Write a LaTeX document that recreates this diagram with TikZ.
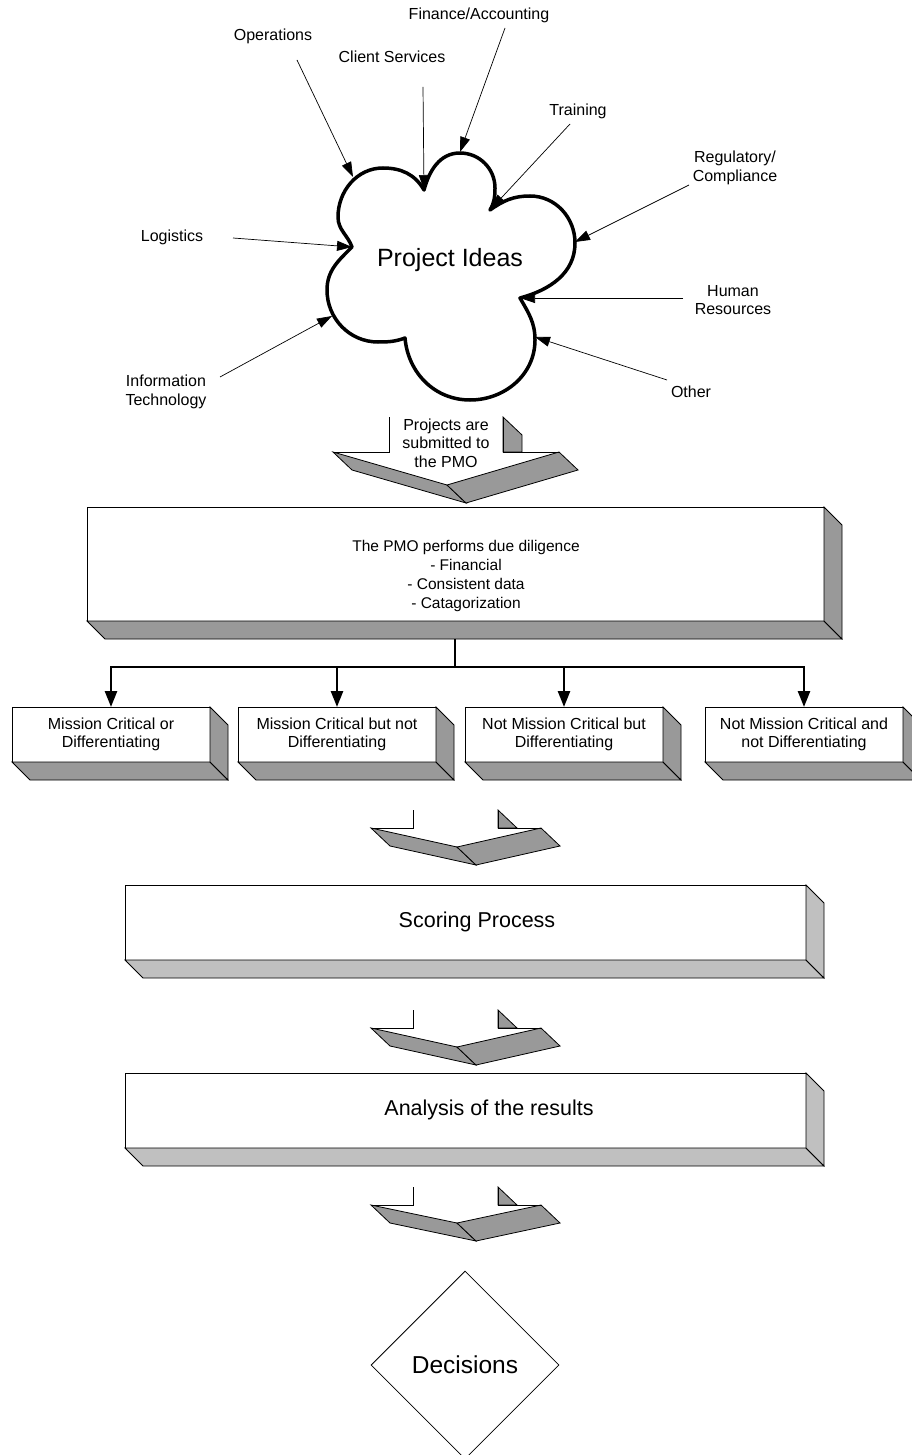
\documentclass[tikz,border=0pt]{standalone}
\usepackage{fontspec}
\setmainfont{Liberation Sans}
\usetikzlibrary{arrows.meta, shapes.geometric, calc}

\definecolor{shadegray}{HTML}{999999}
\definecolor{lightshade}{HTML}{C0C0C0}

\tikzset{
  lbl/.style={font=\fontsize{16}{18.5}\selectfont, align=center, inner sep=0pt},
  bigtxt/.style={font=\fontsize{21.5}{24}\selectfont, inner sep=0pt},
  feed/.style={-{Triangle[length=15pt,width=10pt]}, line width=0.7pt},
  branch/.style={line width=2.6pt, line join=miter, -{Triangle[length=16pt,width=12pt]}},
  facebox/.style={draw, fill=white, line width=0.8pt, inner sep=0pt, outer sep=0pt},
  side/.style={draw, line width=0.8pt, line join=miter},
}

% depth faces of a block (node name, fill)
\newcommand{\slabsides}[2]{%
  \filldraw[side, fill=#2] (#1.south west) -- (#1.south east) -- ++(18,-18)
    -- ($(#1.south west)+(18,-18)$) -- cycle;
  \filldraw[side, fill=#2] (#1.north east) -- ++(18,-18)
    -- ($(#1.south east)+(18,-18)$) -- (#1.south east) -- cycle;
}

% down chevron: shaft xL xR, wings xWL xWR, tip x, shaft top, wing y, tip y
\newcommand{\chevron}[8]{%
  \filldraw[side, fill=shadegray] (#3,-#7) -- (#5,-#8) -- ++(19,-18) -- (#3+19,-#7-18) -- cycle;
  \filldraw[side, fill=shadegray] (#5,-#8) -- (#4,-#7) -- ++(19,-18) -- (#5+19,-#8-18) -- cycle;
  \filldraw[side, fill=shadegray] (#2,-#6) -- (#2+19,-#6-18) -- (#2+19,-#7) -- (#2,-#7) -- cycle;
  \draw[side] (#1,-#6) -- (#1,-#7) -- (#3,-#7);
  \draw[side] (#2,-#6) -- (#2,-#7) -- (#4,-#7);
}

\begin{document}
\begin{tikzpicture}[x=1pt, y=1pt]
\useasboundingbox (0,0) rectangle (912,-1455);

% the cloud
\coordinate (n1) at (424,-190);
\coordinate (n2) at (490,-210);
\coordinate (n3) at (520,-298);
\coordinate (n4) at (405,-338);
\coordinate (n5) at (352,-247);
\filldraw[fill=white, line width=3.5pt, line join=round]
  (n5) to[out=110,in=-90] (338,-217) to[out=90,in=180] (383,-168) to[out=0,in=120] (n1)
  to[out=75,in=180] (460,-153) to[out=0,in=90] (495,-188) to[out=-90,in=60] (n2)
  to[out=35,in=180] (530,-196) to[out=0,in=90] (575,-243) to[out=-90,in=15] (n3)
  to[out=-60,in=90] (535,-340) to[out=-90,in=0] (470,-400) to[out=180,in=-85] (n4)
  to[out=-160,in=0] (378,-342) to[out=180,in=-90] (327,-290) to[out=90,in=-135] (n5) -- cycle;
\node[font=\fontsize{25}{28}\selectfont, inner sep=0pt] (ideas) at (450,-260) {Project Ideas};

% sources
\node[lbl] (fin) at (479,-15) {Finance/Accounting};
\node[lbl] (ops) at (273,-36) {Operations};
\node[lbl] (cli) at (392,-57) {Client Services};
\node[lbl] (trn) at (578,-111) {Training};
\node[lbl] (reg) at (735,-168) {Regulatory/\\Compliance};
\node[lbl] (log) at (172,-237) {Logistics};
\node[lbl] (hr) at (733,-300) {Human\\Resources};
\node[lbl] (it) at (166,-392) {Information\\Technology};
\node[lbl] (oth) at (691,-392) {Other};

\coordinate (fin-tail) at (505,-28);  \coordinate (fin-head) at (460,-152);
\coordinate (ops-tail) at (297,-60);  \coordinate (ops-head) at (353,-177);
\coordinate (cli-tail) at (423,-87);  \coordinate (cli-head) at (424,-190);
\coordinate (trn-tail) at (570,-124); \coordinate (trn-head) at (491,-209);
\coordinate (reg-tail) at (689,-185); \coordinate (reg-head) at (575,-242);
\coordinate (log-tail) at (233,-238); \coordinate (log-head) at (352,-247);
\coordinate (hr-tail) at (683,-298);  \coordinate (hr-head) at (520,-298);
\coordinate (it-tail) at (220,-377);  \coordinate (it-head) at (332,-316);
\coordinate (oth-tail) at (667,-380); \coordinate (oth-head) at (535,-337);
\foreach \s in {fin,ops,cli,trn,reg,log,hr,it,oth}
  \draw[feed] (\s-tail) -- (\s-head);

% submit arrow
\chevron{389}{503}{333}{559}{447}{417}{452}{485}
\node[lbl] (submit) at (446,-443) {Projects are\\submitted to\\the PMO};

% due diligence
\node[facebox, minimum width=737pt, minimum height=114pt] (pmo) at (455.5,-564) {};
\slabsides{pmo}{shadegray}
\node[lbl, font=\fontsize{15.5}{18.7}\selectfont] (pmo-txt) at (466,-576)
  {The PMO performs due diligence\\- Financial\\- Consistent data\\- Catagorization};

% categories
\foreach \b/\x/\t in {mc1/111/{Mission Critical or\\Differentiating},
                      mc2/337/{Mission Critical but not\\Differentiating},
                      mc3/564/{Not Mission Critical but\\Differentiating},
                      mc4/804/{Not Mission Critical and\\not Differentiating}}{
  \node[facebox, lbl, minimum width=198pt, minimum height=55pt] (\b) at (\x,-734.5) {\t};
  \slabsides{\b}{shadegray}
}
\coordinate (pmo-foot) at (455,-639);
\coordinate (bus) at (455,-667);
\foreach \b in {mc1,mc2,mc3,mc4}
  \draw[branch] (pmo-foot) -- (bus) -| (\b.north);

% scoring
\chevron{413}{498}{371}{541}{457}{810}{828}{847}
\node[facebox, minimum width=681pt, minimum height=75pt] (score) at (465.5,-922.5) {};
\slabsides{score}{lightshade}
\node[bigtxt] (score-txt) at (477,-922) {Scoring Process};

% analysis
\chevron{413}{498}{371}{541}{457}{1010}{1028}{1047}
\node[facebox, minimum width=681pt, minimum height=75pt] (anal) at (465.5,-1110.5) {};
\slabsides{anal}{lightshade}
\node[bigtxt] (anal-txt) at (489,-1110) {Analysis of the results};

% decisions
\chevron{413}{498}{371}{541}{457}{1187}{1205}{1223}
\node[diamond, draw, line width=0.8pt, minimum width=188pt, minimum height=188pt,
      inner sep=0pt, font=\fontsize{24.5}{27}\selectfont] (dec) at (465,-1365) {Decisions};
\end{tikzpicture}
\end{document}
